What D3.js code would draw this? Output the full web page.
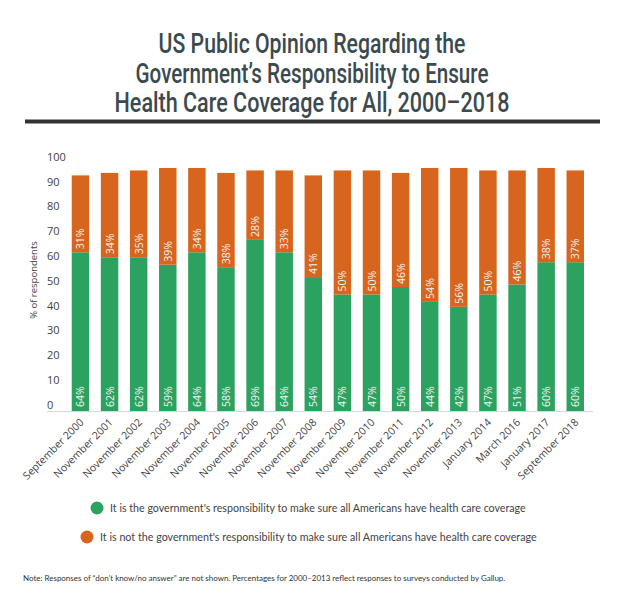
<!DOCTYPE html>
<html><head><meta charset="utf-8">
<script src="https://cdn.jsdelivr.net/npm/d3@7"></script>
<style>body{margin:0;background:#fff}svg{display:block}</style>
</head><body>
<svg id="c" width="624" height="603"></svg>
<script>
const categories = ["September 2000","November 2001","November 2002","November 2003","November 2004","November 2005","November 2006","November 2007","November 2008","November 2009","November 2010","November 2011","November 2012","November 2013","January 2014","March 2016","January 2017","September 2018"];
const isResponsibility = [64,62,62,59,64,58,69,64,54,47,47,50,44,42,47,51,60,60];
const notResponsibility = [31,34,35,39,34,38,28,33,41,50,50,46,54,56,50,46,38,37];
const yTicks = [0,10,20,30,40,50,60,70,80,90,100];
const titleLines = ["US Public Opinion Regarding the","Government\u2019s Responsibility to Ensure","Health Care Coverage for All, 2000\u20132018"];
const seriesNames = ["It is the government's responsibility to make sure all Americans have health care coverage","It is not the government's responsibility to make sure all Americans have health care coverage"];
const note = "Note: Responses of \u201cdon\u2019t know/no answer\u201d are not shown. Percentages for 2000\u20132013 reflect responses to surveys conducted by Gallup.";

const GREEN = "#2ba25f", ORANGE = "#d8651d";
const svg = d3.select("#c");

function fitWidth(sel, target){
  const n = sel.node(); const w = n.getComputedTextLength();
  const fs = parseFloat(sel.attr("font-size"));
  sel.attr("font-size", (fs*target/w).toFixed(2));
}

// Title (horizontally condensed via transform to mimic a narrow face)
const titleBase = [53, 83, 112];
const titleW = [307, 353, 395];
titleLines.forEach((t,i)=>{
  const g = svg.append("g");
  const s = g.append("text").attr("x",0).attr("y",0)
    .attr("text-anchor","middle")
    .attr("font-family","Roboto,sans-serif")
    .attr("font-weight",500).attr("font-size",27.5).attr("fill","#3b4a4e").text(t);
  const w = s.node().getComputedTextLength();
  g.attr("transform",`translate(312,${titleBase[i]}) scale(${(titleW[i]/w).toFixed(4)},1)`);
});
svg.append("rect").attr("x",25).attr("y",119.5).attr("width",575).attr("height",4).attr("fill","#333");

// Scales
const x = d3.scaleBand().domain(categories).range([65.9, 589.8]).paddingInner(0.4).paddingOuter(0.2);
const y = d3.scaleLinear().domain([0,100]).range([411, 163]);

// Y axis labels
const yAxis = d3.axisLeft(y).tickValues(yTicks).tickSize(0).tickPadding(0);
const ga = svg.append("g").attr("transform","translate(47,0)").call(yAxis);
ga.select(".domain").remove();
ga.selectAll("text").attr("text-anchor","start").attr("x",0).attr("dy","-0.25em")
  .attr("font-family","'Open Sans',sans-serif").attr("font-size",11).attr("fill","#444");

svg.append("text").attr("transform","translate(37,280) rotate(-90)").attr("text-anchor","middle")
  .attr("font-family","'Open Sans',sans-serif").attr("font-size",9.5).attr("fill","#444").text("% of respondents");

// Bars
const data = categories.map((c,i)=>({c, g:isResponsibility[i], o:notResponsibility[i]}));
const gb = svg.append("g");
gb.selectAll("rect.g").data(data).join("rect").attr("class","g")
  .attr("x",d=>x(d.c)).attr("width",x.bandwidth())
  .attr("y",d=>y(d.g)).attr("height",d=>y(0)-y(d.g)).attr("fill",GREEN);
gb.selectAll("rect.o").data(data).join("rect").attr("class","o")
  .attr("x",d=>x(d.c)).attr("width",x.bandwidth())
  .attr("y",d=>y(d.g+d.o)).attr("height",d=>y(d.g)-y(d.g+d.o)).attr("fill",ORANGE);

// Baseline
svg.append("line").attr("x1",47).attr("x2",593).attr("y1",y(0)+0.5).attr("y2",y(0)+0.5)
  .attr("stroke","#d9d9d9").attr("stroke-width",1);

// Bar labels
const lab = svg.append("g").attr("font-family","'Open Sans',sans-serif").attr("font-size",10.5).attr("fill","#f4f4f4");
lab.selectAll("text.g").data(data).join("text").attr("class","g")
  .attr("transform",d=>`translate(${x(d.c)+x.bandwidth()/2},${y(0)-4}) rotate(-90)`)
  .attr("dominant-baseline","central").attr("text-anchor","start").text(d=>d.g+"%");
lab.selectAll("text.o").data(data).join("text").attr("class","o")
  .attr("transform",d=>`translate(${x(d.c)+x.bandwidth()/2},${y(d.g)-3}) rotate(-90)`)
  .attr("dominant-baseline","central").attr("text-anchor","start").text(d=>d.o+"%");

// X labels
const xl = svg.append("g").attr("font-family","'Open Sans',sans-serif").attr("font-size",10.5).attr("fill","#444");
xl.selectAll("text").data(categories).join("text")
  .attr("transform",d=>`translate(${x(d)+x.bandwidth()/2+4},${y(0)+12}) rotate(-45)`)
  .attr("text-anchor","end").text(d=>d);

// Legend
const leg = [{cx:97, cy:508, tx:110, w:416, col:GREEN},{cx:87, cy:537, tx:100, w:437, col:ORANGE}];
leg.forEach((l,i)=>{
  svg.append("circle").attr("cx",l.cx).attr("cy",l.cy).attr("r",6.5).attr("fill",l.col);
  const t = svg.append("text").attr("x",l.tx).attr("y",l.cy+4).attr("font-family","Lato,'Open Sans',sans-serif")
    .attr("font-size",11).attr("fill","#444").text(seriesNames[i]);
  fitWidth(t, l.w);
});

const nt = svg.append("text").attr("x",23).attr("y",581).attr("font-family","Lato,'Open Sans',sans-serif")
  .attr("font-size",9).attr("fill","#333").text(note);
fitWidth(nt, 482);
</script>
</body></html>
